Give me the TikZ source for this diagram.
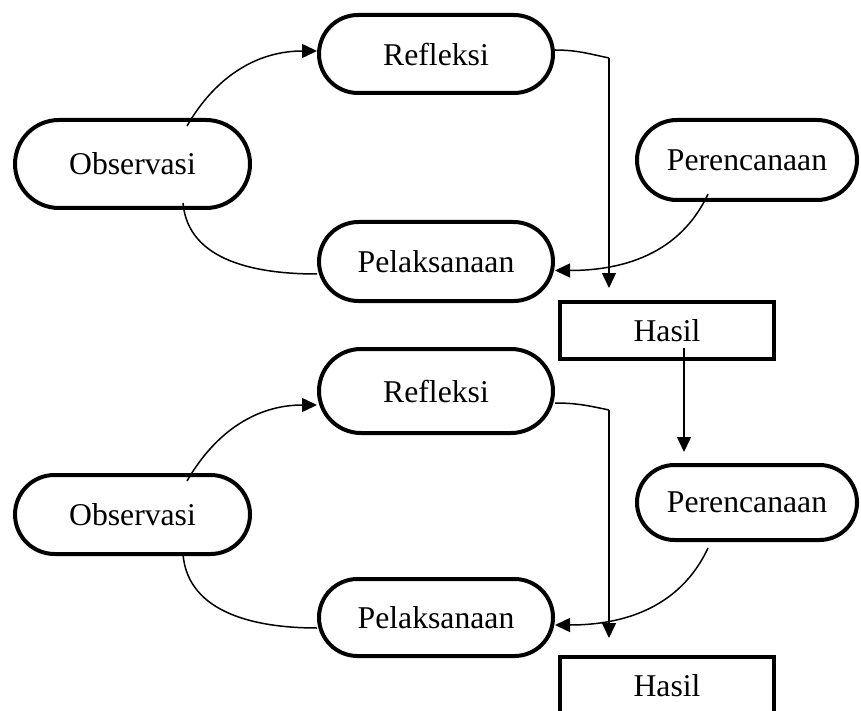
\documentclass[tikz,border=0pt]{standalone}
\usepackage{fontspec}
\setmainfont{Liberation Serif}
\usepackage{tikz}
\usetikzlibrary{positioning,arrows.meta,shapes.misc}

\begin{document}
\begin{tikzpicture}[->,>={Triangle[length=15pt,width=14pt]},line width=1.5pt,x=1pt,y=1pt]
  \tikzstyle{phase}=[rounded rectangle,draw,line width=4pt,inner sep=0pt,minimum width=234pt,font=\fontsize{31.7}{38}\selectfont]
  \tikzstyle{result}=[rectangle,draw,line width=4pt,inner sep=0pt,minimum width=214pt,minimum height=57pt,font=\fontsize{31.7}{38}\selectfont]

  \useasboundingbox (0,0) rectangle (861,-711);

  % first cycle
  \node[phase,minimum height=78pt] (ref1) at (436,-54) {Refleksi};
  \node[phase,minimum height=88pt,minimum width=235pt] (obs1) at (132.5,-164) {Observasi};
  \node[phase,minimum height=79pt] (pel1) at (436,-261.5) {Pelaksanaan};
  \node[phase,minimum height=80pt,minimum width=220pt] (per1) at (747,-160) {Perencanaan};
  \node[result] (has1) at (667,-330.5) {Hasil};

  % second cycle
  \node[phase,minimum height=84pt] (ref2) at (436,-391) {Refleksi};
  \node[phase,minimum height=79pt,minimum width=235pt] (obs2) at (132.5,-514.5) {Observasi};
  \node[phase,minimum height=77pt] (pel2) at (436,-617.5) {Pelaksanaan};
  \node[phase,minimum height=75pt,minimum width=220pt] (per2) at (747,-502.5) {Perencanaan};
  \node[result] (has2) at (667,-685.5) {Hasil};

  \coordinate (k1) at (609,-58);
  \coordinate (k2) at (609,-410);
  \coordinate (h1) at ([xshift=17pt,yshift=-17.5pt]has1.center);

  % arrows of the first cycle
  \draw ([xshift=54.5pt,yshift=38pt]obs1.center) to[out=60,in=180] ([yshift=3pt]ref1.west);
  \draw[-] ([xshift=50.5pt,yshift=-39pt]obs1.center) to[out=-85,in=180] ([yshift=-12.5pt]pel1.west);
  \draw[-] ([yshift=4pt]ref1.east) to[out=0,in=168] (k1);
  \draw[shorten >=12pt] (k1) -- (k1 |- has1.north);
  \draw ([xshift=-39pt,yshift=-34pt]per1.center) to[out=-115,in=0] ([yshift=-9pt]pel1.east);
  \draw[shorten >=11pt] (h1) -- (h1 |- per2.north);

  % arrows of the second cycle
  \draw ([xshift=54.5pt,yshift=33.5pt]obs2.center) to[out=60,in=180] ([yshift=-14pt]ref2.west);
  \draw[-] ([xshift=50.5pt,yshift=-40pt]obs2.center) to[out=-85,in=180] ([yshift=-10.5pt]pel2.west);
  \draw[-] ([yshift=-12pt]ref2.east) to[out=0,in=168] (k2);
  \draw[shorten >=17pt] (k2) -- (k2 |- has2.north);
  \draw ([xshift=-39pt,yshift=-45.5pt]per2.center) to[out=-115,in=0] ([yshift=-7.5pt]pel2.east);
\end{tikzpicture}
\end{document}
